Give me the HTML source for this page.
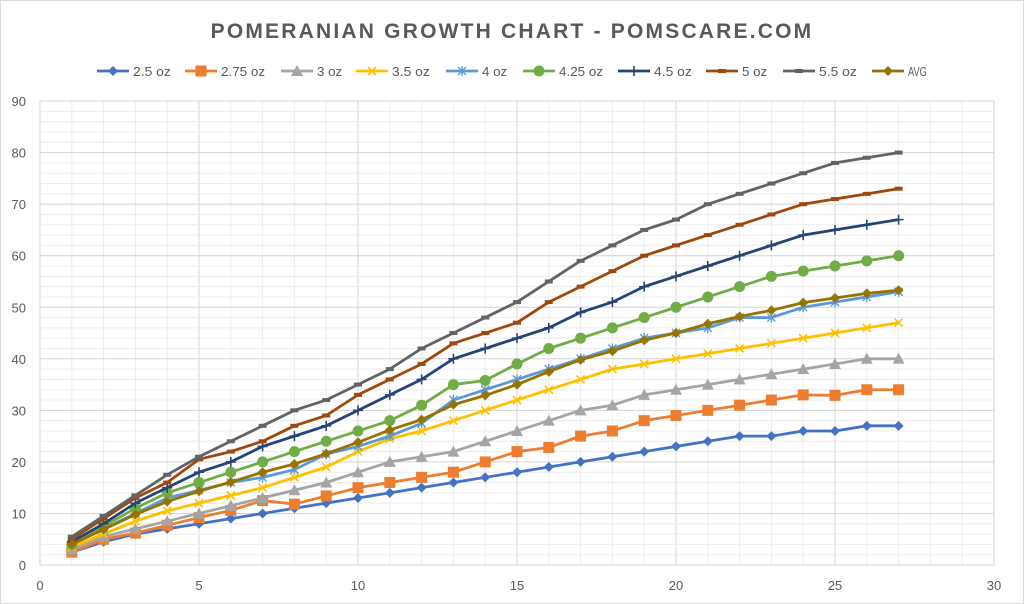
<!DOCTYPE html>
<html><head><meta charset="utf-8"><style>
body{margin:0;background:#fff}
svg{display:block;font-family:"Liberation Sans",sans-serif}
</style></head><body>
<svg id="c" width="1024" height="604" viewBox="0 0 1024 604" xmlns="http://www.w3.org/2000/svg">
<rect x="0.5" y="0.5" width="1023" height="603" fill="#fff" stroke="#d9d9d9"/>
<text x="512" y="38" text-anchor="middle" font-size="21" font-weight="bold" fill="#595959" letter-spacing="2.2">POMERANIAN GROWTH CHART - POMSCARE.COM</text>
<g id="grid"></g><g id="ser"></g><g id="leg"></g>
</svg>
<script>
const NS="http://www.w3.org/2000/svg";
const X0=40,XS=31.8,Y0=565,YS=5.155;
const px=x=>X0+x*XS, py=y=>Y0-y*YS;
function el(p,t,a,txt){const e=document.createElementNS(NS,t);for(const k in a)e.setAttribute(k,a[k]);if(txt!=null)e.textContent=txt;p.appendChild(e);return e;}
const g=document.getElementById('grid');
for(let i=0;i<=30;i++){el(g,'line',{x1:px(i),x2:px(i),y1:py(0),y2:py(90),stroke:i%5?'#ececec':'#d4d4d4','stroke-width':1});}
for(let j=0;j<=90;j+=2){el(g,'line',{x1:px(0),x2:px(30),y1:py(j),y2:py(j),stroke:j%10?'#ececec':'#d4d4d4','stroke-width':1});}
for(let j=0;j<=90;j+=10)el(g,'text',{x:26,y:py(j)+5,'text-anchor':'end','font-size':13,fill:'#595959'},j);
for(let i=0;i<=30;i+=5)el(g,'text',{x:px(i),y:590,'text-anchor':'middle','font-size':13,fill:'#595959'},i);
const S=[
["2.5 oz","#4472c4","dia",[2.5,4.5,6,7,8,9,10,11,12,13,14,15,16,17,18,19,20,21,22,23,24,25,25,26,26,27,27]],
["2.75 oz","#ed7d31","sq",[2.5,5,6.2,7.7,9.2,10.6,12.5,11.8,13.4,15,16,17,18,20,22,22.8,25,26,28,29,30,31,32,33,32.9,34,34]],
["3 oz","#a5a5a5","tri",[3,5.5,7,8.5,10,11.5,13,14.5,16,18,20,21,22,24,26,28,30,31,33,34,35,36,37,38,39,40,40]],
["3.5 oz","#ffc000","x",[3.5,6,8.5,10.5,12,13.5,15,17,19,22,24.5,26,28,30,32,34,36,38,39,40,41,42,43,44,45,46,47]],
["4 oz","#5b9bd5","star",[4,7,10,13,14.5,16,17,18.5,21.5,23,25,27.5,32,34,36,38,40,42,44,45,46,48,48,50,51,52,53]],
["4.25 oz","#70ad47","circ",[4,7.5,11,14,16,18,20,22,24,26,28,31,35,35.8,39,42,44,46,48,50,52,54,56,57,58,59,60]],
["4.5 oz","#264478","plus",[4.5,8,12,15,18,20,23,25,27,30,33,36,40,42,44,46,49,51,54,56,58,60,62,64,65,66,67]],
["5 oz","#9e480e","dash",[5,9,13,16,20.5,22,24,27,29,33,36,39,43,45,47,51,54,57,60,62,64,66,68,70,71,72,73]],
["5.5 oz","#636363","dash",[5.5,9.5,13.5,17.5,21,24,27,30,32,35,38,42,45,48,51,55,59,62,65,67,70,72,74,76,78,79,80]],
["AVG","#997300","dia",[4,6.9,9.8,12.3,14.3,16.1,18,19.6,21.6,23.8,26.2,28.2,31.1,32.9,35,37.5,39.8,41.5,43.6,45,46.8,48.2,49.4,50.9,51.8,52.7,53.3]]];
function mk(p,t,x,y,c){
 if(t=="dia")el(p,'path',{d:`M${x} ${y-5}L${x+5} ${y}L${x} ${y+5}L${x-5} ${y}Z`,fill:c});
 else if(t=="sq")el(p,'rect',{x:x-5.5,y:y-5.5,width:11,height:11,fill:c});
 else if(t=="tri")el(p,'path',{d:`M${x} ${y-6}L${x+6} ${y+5}L${x-6} ${y+5}Z`,fill:c});
 else if(t=="circ")el(p,'circle',{cx:x,cy:y,r:5.5,fill:c});
 else if(t=="x")el(p,'path',{d:`M${x-4} ${y-4}L${x+4} ${y+4}M${x+4} ${y-4}L${x-4} ${y+4}`,stroke:c,'stroke-width':1.6});
 else if(t=="star")el(p,'path',{d:`M${x-4} ${y-4}L${x+4} ${y+4}M${x+4} ${y-4}L${x-4} ${y+4}M${x} ${y-5}L${x} ${y+5}`,stroke:c,'stroke-width':1.4});
 else if(t=="plus")el(p,'path',{d:`M${x-5} ${y}L${x+5} ${y}M${x} ${y-5}L${x} ${y+5}`,stroke:c,'stroke-width':1.6});
 else if(t=="dash")el(p,'path',{d:`M${x-4} ${y}L${x+4} ${y}`,stroke:c,'stroke-width':4});
}
const sg=document.getElementById('ser'),lg=document.getElementById('leg');
const LX=[97,185,281,356,446,523,618,706,783,872];
S.forEach((s,i)=>{
 const pts=s[3].map((v,k)=>px(k+1)+','+py(v)).join(' ');
 el(sg,'polyline',{points:pts,fill:'none',stroke:s[1],'stroke-width':2.8,'stroke-linejoin':'round'});
 s[3].forEach((v,k)=>mk(sg,s[2],px(k+1),py(v),s[1]));
 const x=LX[i];
 el(lg,'line',{x1:x,x2:x+32,y1:71,y2:71,stroke:s[1],'stroke-width':2.8});
 mk(lg,s[2],x+16,71,s[1]);
 el(lg,'text',{x:x+36,y:76,'font-size':13,fill:'#595959',textLength:s[0].length*6.3,lengthAdjust:'spacingAndGlyphs'},s[0]);
});
</script>
</body></html>
